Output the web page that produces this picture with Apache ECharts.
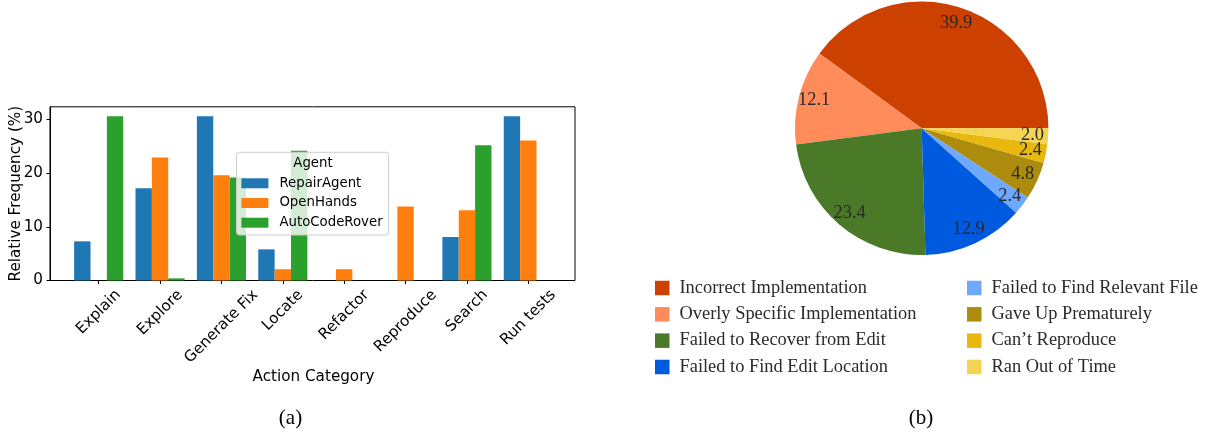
<!DOCTYPE html>
<html><head><meta charset="utf-8">
<script src="https://cdn.jsdelivr.net/npm/echarts@6/dist/echarts.min.js"></script>
<style>html,body{margin:0;padding:0;background:#fff}#c{width:1215px;height:438px}</style>
</head><body><div id="c"></div>
<script>
// ---- data ----
const categories = ['Explain','Explore','Generate Fix','Locate','Refactor','Reproduce','Search','Run tests'];
const agents = ['RepairAgent','OpenHands','AutoCodeRover'];
const repairAgent   = [7.3, 17.2, 30.6, 5.8, 0,   0,    8.1, 30.6];
const openHands     = [0,   22.9, 19.6, 2.1, 2.1, 13.8, 13.1, 26.1];
const autoCodeRover = [30.6, 0.4, 19.2, 24.2, 0,  0,    25.2, 0];
const yTicks = [0, 10, 20, 30];
const failureNames = ['Incorrect Implementation','Overly Specific Implementation','Failed to Recover from Edit','Failed to Find Edit Location','Failed to Find Relevant File','Gave Up Prematurely','Can\u2019t Reproduce','Ran Out of Time'];
const failureValues = [39.9, 12.1, 23.4, 12.9, 2.4, 4.8, 2.4, 2.0];

// ---- styles ----
const barColors = ['#1f77b4','#ff7f0e','#2ca02c'];
const pieColors = ['#cc4100','#ff8c5a','#4a7a27','#005ae0','#6ea8ff','#ad8b0c','#e8b80e','#f5d451'];
const SANS = "'DejaVu Sans', sans-serif";
const SERIF = "'Liberation Serif', 'Times New Roman', serif";
const TICK_FS = 15.2, LABEL_FS = 15.2, LEGEND_FS = 13.3, SERIF_FS = 18.4, CAPTION_FS = 21;

// matplotlib-style centred rotated tick labels: pad each label so its rotated box is centred under the tick
const ctx = document.createElement('canvas').getContext('2d');
ctx.font = TICK_FS + "px 'DejaVu Sans'";
const LH = 17;
const rich = {};
categories.forEach((c, i) => {
  const w = ctx.measureText(c).width;
  const p = (w + LH) / 2;
  rich['l' + i] = {padding: [p, p, 0, 0], fontSize: TICK_FS, fontFamily: SANS, lineHeight: LH, color: '#000'};
});

const seriesData = [repairAgent, openHands, autoCodeRover];
const yMax = 32.37;

const option = {
  animation: false,
  grid: [
    {left: 50, right: 640, top: 106.8, bottom: 157.5, show: true, borderColor: '#000', borderWidth: 1, backgroundColor: 'transparent'},
    {left: 68, width: 491, top: 106.8, bottom: 157.5}
  ],
  xAxis: [
    {gridIndex: 0, type: 'value', min: 0, max: 1, show: false},
    {gridIndex: 1, type: 'category', data: categories,
     axisLine: {show: false},
     axisTick: {show: true, alignWithLabel: true, length: 3.5, lineStyle: {color: '#000', width: 1}},
     axisLabel: {interval: 0, rotate: 45, align: 'center', verticalAlign: 'middle', margin: 6,
                 fontSize: TICK_FS, fontFamily: SANS, color: '#000', lineHeight: LH,
                 formatter: (v, i) => '{l' + i + '|' + v + '}', rich: rich},
     name: 'Action Category', nameLocation: 'middle', nameGap: 89, nameMoveOverlap: false,
     nameTextStyle: {fontFamily: SANS, fontSize: LABEL_FS, color: '#000'}}
  ],
  yAxis: [
    {gridIndex: 0, type: 'value', min: 0, max: yMax, interval: 10,
     splitLine: {show: false},
     axisLine: {show: true, lineStyle: {color: '#000', width: 1}},
     axisTick: {show: true, length: 3.5, customValues: yTicks, lineStyle: {color: '#000', width: 1}},
     axisLabel: {customValues: yTicks, margin: 7, fontFamily: SANS, fontSize: TICK_FS, color: '#000'},
     name: 'Relative Frequency (%)', nameLocation: 'middle', nameGap: 26, nameMoveOverlap: false,
     nameTextStyle: {fontFamily: SANS, fontSize: LABEL_FS, color: '#000'}},
    {gridIndex: 1, type: 'value', min: 0, max: yMax, show: false}
  ],
  legend: [
    {data: agents, orient: 'vertical', left: 236.5, top: 152.3, padding: [23.5, 6, 4.8, 4.9],
     itemWidth: 27, itemHeight: 10, itemGap: 4.7, icon: 'rect',
     backgroundColor: 'rgba(255,255,255,0.8)', borderColor: '#cccccc', borderWidth: 1, borderRadius: 3,
     textStyle: {fontFamily: SANS, fontSize: LEGEND_FS, color: '#000', lineHeight: 15, padding: [0, 0, 0, 6]},
     selectedMode: false},
    {data: failureNames.slice(0, 4), orient: 'vertical', left: 655, top: 278, padding: 0,
     itemWidth: 14.5, itemHeight: 14.5, itemGap: 6.33, icon: 'rect',
     textStyle: {fontFamily: SERIF, fontSize: SERIF_FS, color: '#2a2a2a', lineHeight: 20, padding: [0, 0, 0, 5]},
     selectedMode: false},
    {data: failureNames.slice(4), orient: 'vertical', left: 967, top: 278, padding: 0,
     itemWidth: 14.5, itemHeight: 14.5, itemGap: 6.33, icon: 'rect',
     textStyle: {fontFamily: SERIF, fontSize: SERIF_FS, color: '#2a2a2a', lineHeight: 20, padding: [0, 0, 0, 5]},
     selectedMode: false}
  ],
  graphic: [
    {type: 'text', x: 313, y: 163.3, z: 100,
     style: {text: 'Agent', font: LEGEND_FS + "px 'DejaVu Sans'", fill: '#000', align: 'center', verticalAlign: 'middle'}},
    {type: 'text', x: 290.5, y: 418,
     style: {text: '(a)', font: CAPTION_FS + "px 'Liberation Serif'", fill: '#000', align: 'center', verticalAlign: 'middle'}},
    {type: 'text', x: 921, y: 418,
     style: {text: '(b)', font: CAPTION_FS + "px 'Liberation Serif'", fill: '#000', align: 'center', verticalAlign: 'middle'}}
  ],
  series: [
    ...agents.map((a, k) => ({
      name: a, type: 'bar', xAxisIndex: 1, yAxisIndex: 1, data: seriesData[k],
      barGap: '0%', barCategoryGap: '20%', itemStyle: {color: barColors[k]}, emphasis: {disabled: true}
    })),
    {type: 'pie', center: [921.7, 128.3], radius: 126.7, startAngle: 0, clockwise: false,
     label: {show: false}, labelLine: {show: false}, emphasis: {disabled: true},
     itemStyle: {borderWidth: 0},
     data: failureNames.map((n, i) => ({name: n, value: failureValues[i], itemStyle: {color: pieColors[i]}}))},
    {type: 'pie', center: [921.7, 128.3], radius: [89.3, 126.7], startAngle: 0, clockwise: false,
     silent: true, legendHoverLink: false, emphasis: {disabled: true}, avoidLabelOverlap: false,
     labelLayout: {hideOverlap: false},
     itemStyle: {color: 'rgba(0,0,0,0)', borderWidth: 0},
     label: {show: true, position: 'inside', formatter: p => p.value.toFixed(1),
             fontFamily: SERIF, fontSize: SERIF_FS, color: '#2a2a2a'},
     labelLine: {show: false},
     data: failureNames.map((n, i) => ({name: n, value: failureValues[i]}))}
  ]
};
echarts.init(document.getElementById('c'), null, {renderer: 'canvas'}).setOption(option);
</script></body></html>
